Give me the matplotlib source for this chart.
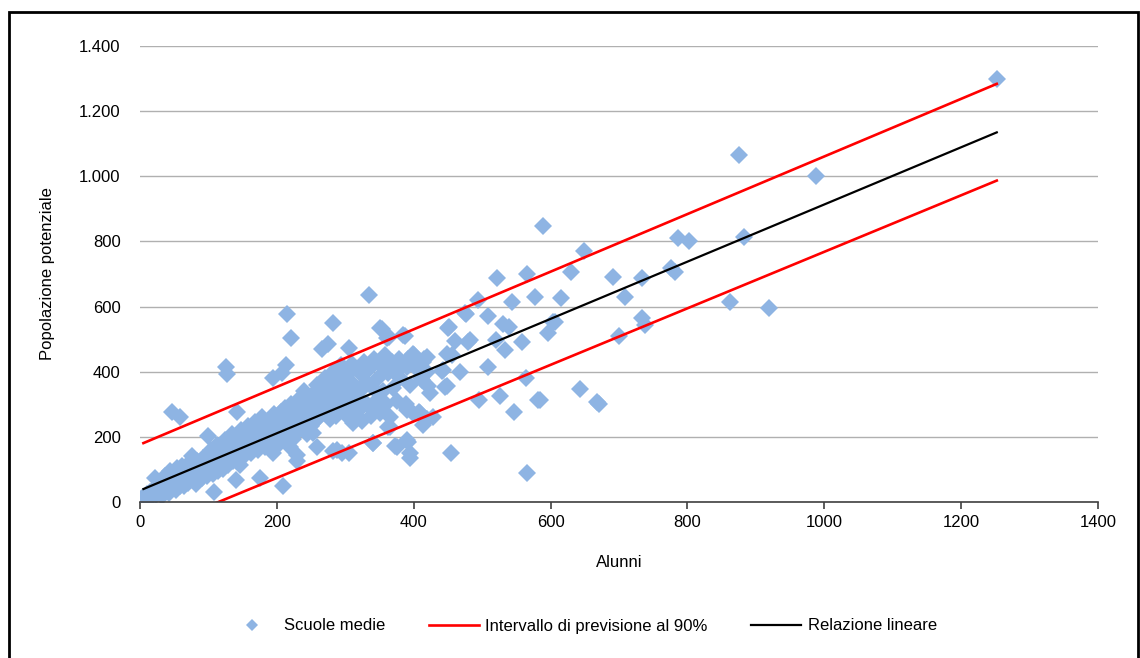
import matplotlib
matplotlib.use("Agg")
import matplotlib.pyplot as plt
from matplotlib.patches import Rectangle
from matplotlib.ticker import FuncFormatter

plt.rcParams['font.family'] = ['Liberation Sans', 'DejaVu Sans']

# scuole medie: alunni (x) e popolazione potenziale (y)
alunni = [
    2, 5, 8, 10, 12, 15, 18, 20, 22, 24,
    26, 28, 30, 32, 34, 36, 38, 40, 42, 44, 46, 48, 50, 52, 54, 56, 58, 60,
    62, 64, 66, 68, 70, 72, 74, 76, 78, 80, 82, 84, 86, 88, 90, 92, 94, 96, 98, 100,
    102, 104, 106, 108, 110, 112, 114, 116, 118, 120, 122, 124, 126, 128, 130, 132,
    134, 136, 138, 140, 142, 144, 146, 148, 150,
    152, 154, 156, 158, 160, 162, 164, 166, 168, 170, 172, 174, 176, 178, 180, 182,
    184, 186, 188, 190, 192, 194, 196, 198, 200,
    202, 204, 206, 208, 210, 212, 214, 216, 218, 220, 222, 224, 226, 228, 230, 232,
    234, 236, 238, 240, 242, 244, 246, 248, 250,
    252, 254, 256, 258, 260, 262, 264, 266, 268, 270, 272, 274, 276, 278, 280, 282,
    284, 286, 288, 290, 292, 294, 296, 298, 300,
    302, 305, 308, 310, 312, 315, 318, 320, 322, 325, 328, 330, 332, 335, 338, 340,
    342, 345, 348, 350,
    352, 355, 358, 360, 362, 365, 368, 370, 372, 375, 378, 380, 385, 388, 392, 395,
    400, 405, 410, 415, 420,
    # punti isolati
    1252, 875, 988, 883, 786, 802, 776, 782, 862, 919, 734, 691, 709, 734, 738, 700,
    643, 671, 630, 649, 589, 615, 604, 596, 566, 577, 522, 494, 508, 544, 539, 530,
    533, 520, 509, 558, 564, 582, 546, 526, 496, 565, 455, 468, 479, 451, 476, 460,
    456, 442, 448, 413, 421, 424, 419, 414, 408, 390, 395, 391, 373, 362, 340, 295,
    334, 353, 364, 387, 306, 282, 275, 266, 215, 221, 126, 127, 47, 58, 194, 207,
    214, 209, 175, 108, 140, 99, 142, 229, 282, 305, 399, 419, 449, 390, 409, 443,
    412, 446, 350, 361, 384, 450, 482, 475, 409, 428, 399, 311, 336, 351, 390, 311,
    365, 341, 376, 390, 395, 194, 229, 259, 288, 219, 190, 200, 253, 606, 668, 585,
]
popolazione = [
    8, 15, 5, 25, 12, 30, 18, 40, 75, 22,
    48, 30, 62, 20, 55, 80, 40, 70, 28, 95, 60, 45, 85, 38, 105, 70, 50, 90,
    110, 48, 78, 95, 60, 120, 85, 140, 70, 100, 55, 125, 90, 110, 75, 135, 95, 118, 80, 145,
    105, 160, 85, 130, 110, 175, 95, 145, 120, 160, 100, 190, 135, 115, 170, 150,
    210, 125, 180, 145, 195, 160, 115, 220, 175,
    140, 200, 160, 235, 185, 150, 215, 170, 245, 195, 160, 225, 185, 260, 205, 170,
    240, 210, 180, 255, 225, 190, 270, 235, 205,
    250, 180, 275, 230, 200, 290, 245, 210, 265, 300, 235, 195, 280, 250, 215, 315,
    265, 230, 295, 340, 250, 210, 310, 270, 235,
    330, 285, 250, 360, 300, 260, 345, 310, 280, 380, 325, 290, 350, 255, 320, 400,
    300, 265, 370, 330, 290, 420, 350, 310, 270,
    390, 340, 300, 425, 360, 320, 280, 400, 340, 250, 430, 370, 300, 410, 265, 350,
    440, 310, 380, 280,
    420, 340, 450, 300, 395, 260, 430, 350, 410, 310, 440, 380, 420, 300, 440, 360,
    450, 410, 380, 440, 400,
    # punti isolati
    1300, 1065, 1000, 814, 811, 801, 718, 706, 614, 596, 688, 691, 629, 565, 543, 510,
    346, 301, 705, 772, 848, 625, 553, 519, 700, 629, 687, 620, 572, 614, 538, 548,
    467, 498, 416, 492, 380, 312, 276, 327, 314, 90, 150, 398, 491, 537, 578, 494,
    450, 402, 355, 430, 357, 336, 255, 236, 275, 283, 136, 184, 172, 229, 182, 152,
    637, 531, 507, 510, 472, 551, 485, 470, 578, 503, 414, 393, 277, 262, 382, 396,
    420, 48, 75, 32, 69, 202, 275, 126, 156, 152, 456, 446, 456, 414, 427, 405,
    375, 353, 534, 503, 513, 534, 497, 580, 273, 261, 273, 273, 292, 273, 289, 243,
    230, 181, 169, 190, 150, 150, 144, 169, 160, 169, 190, 230, 212, 553, 307, 313,
]

# relazione lineare e intervallo di previsione al 90%
retta_x = [5, 1252]
retta_y = [40, 1135]
sup_y = [181, 1284]
inf_y = [-95, 987]

fig = plt.figure(figsize=(11.4, 6.58), dpi=100)
ax = fig.add_axes([0.1228, 0.237, 0.8404, 0.693])

ax.plot(alunni, popolazione, linestyle='none', marker='D', markersize=8.8,
        color='#8EB4E3', markeredgewidth=0, label='Scuole medie', zorder=2)
ax.plot(retta_x, sup_y, color='#FF0000', linewidth=1.9,
        label='Intervallo di previsione al 90%', zorder=3)
ax.plot(retta_x, inf_y, color='#FF0000', linewidth=1.9, zorder=3)
ax.plot(retta_x, retta_y, color='black', linewidth=1.6,
        label='Relazione lineare', zorder=4)

ax.set_xlim(0, 1400)
ax.set_ylim(0, 1400)
ax.set_xticks(range(0, 1401, 200))
ax.set_yticks(range(0, 1401, 200))
ax.yaxis.set_major_formatter(FuncFormatter(lambda v, p: f"{int(v):,}".replace(',', '.')))

ax.grid(axis='y', color='#B0B0B0', linewidth=1)
ax.set_axisbelow(True)
for s in ['top', 'right', 'left']:
    ax.spines[s].set_visible(False)
ax.spines['bottom'].set_color('#404040')
ax.spines['bottom'].set_linewidth(1.2)
ax.spines['bottom'].set_zorder(5)
ax.tick_params(axis='y', length=0, pad=14, labelsize=12)
ax.tick_params(axis='x', direction='out', length=5, width=1.2, color='#404040',
               pad=4, labelsize=12)

ax.set_xlabel('Alunni', fontsize=12, labelpad=18)
ax.set_ylabel('Popolazione potenziale', fontsize=12, labelpad=17)

fig.legend(loc='center', bbox_to_anchor=(582 / 1140, 1 - 626 / 658), ncol=3,
           frameon=False, fontsize=12, handlelength=3.0, handletextpad=0.4,
           columnspacing=2.6, markerscale=0.65)

fig.patches.append(Rectangle((9 / 1140, -0.01), 1129 / 1140, 1 - 12 / 658 + 0.01,
                             transform=fig.transFigure, fill=False,
                             edgecolor='black', linewidth=2))

fig.savefig('out.png', dpi=100)
